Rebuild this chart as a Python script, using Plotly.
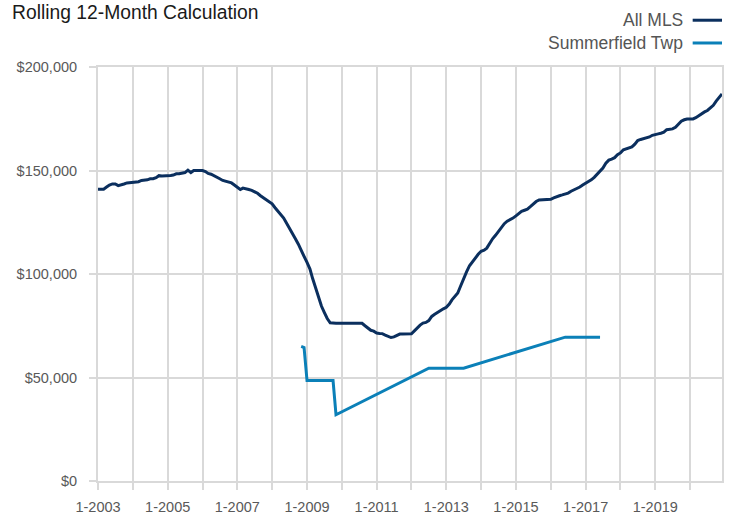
import pandas as pd
import plotly.graph_objects as go

# ---- data (in dollars) ----
mls_dates = pd.date_range("2003-01-01", "2020-12-01", freq="MS")
all_mls = [
    # 2003
    141000, 141000, 141000, 142000, 143000, 143500, 143500, 142700, 143000, 143500, 144000, 144200,
    # 2004
    144400, 144400, 144600, 145200, 145200, 145500, 146000, 146000, 146500, 147500, 147300, 147300,
    # 2005
    147500, 147600, 147800, 148400, 148400, 148800, 149000, 150200, 149000, 150000, 150000, 150000,
    # 2006
    150000, 149500, 148600, 148200, 147600, 146800, 146000, 145200, 144700, 144400, 144000, 143000,
    # 2007
    141900, 140800, 141500, 141000, 140800, 140400, 139800, 139000, 137800, 136800, 136000, 135200,
    # 2008
    133900, 132000, 130500, 129000, 127000, 124500, 121800, 119500, 117000, 114500, 111000, 108500,
    # 2009
    105600, 102400, 97800, 93500, 89000, 84500, 81500, 78500, 76400, 76200, 76200, 76200,
    # 2010
    76200, 76200, 76200, 76200, 76200, 76200, 76200, 76200, 75000, 73700, 72800, 72400,
    # 2011
    71500, 71300, 71200, 70500, 69800, 69300, 69600, 70500, 71000, 71000, 71000, 71100,
    # 2012
    71100, 72500, 74000, 75300, 76300, 76600, 77500, 79500, 80500, 81500, 82500, 83200,
    # 2013
    83900, 85500, 87500, 89200, 90800, 94300, 98000, 101000, 104000, 106000, 107500, 109500,
    # 2014
    111000, 111500, 112500, 115000, 117000, 118700, 120500, 122000, 124300, 125500, 126200, 127000,
    # 2015
    128100, 129300, 130300, 130800, 131300, 132500, 133800, 135000, 135800, 135800, 135800, 136000,
    # 2016
    136100, 136800, 137400, 137800, 138200, 138600, 139100, 140000, 140700, 141200, 142000, 143000,
    # 2017
    143800, 144500, 145500, 146700, 148300, 149800, 151200, 153500, 155000, 155500, 156200, 157600,
    # 2018
    158500, 160000, 160400, 160600, 161400, 162700, 164500, 165000, 165300, 165700, 166200, 167000,
    # 2019
    167500, 167700, 168000, 168500, 169700, 170000, 170100, 170900, 172600, 173800, 174500, 174900,
    # 2020
    174900, 174900, 175500, 176500, 177300, 178300, 179000, 180200, 181500, 183500, 185300, 187000,
]

summerfield_dates = ["2008-11-01", "2008-12-01", "2009-01-01", "2009-10-01", "2009-11-01",
                     "2012-07-01", "2013-07-01", "2016-06-01", "2017-06-01"]
summerfield = [65000, 64500, 48500, 48500, 32000, 54500, 54500, 69500, 69500]

year_ticks = [f"{y}-01-01" for y in range(2003, 2021)]
year_labels = [f"1-{y}" if (y - 2003) % 2 == 0 else "" for y in range(2003, 2021)]
y_ticks = [0, 50000, 100000, 150000, 200000]
y_labels = ["$0", "$50,000", "$100,000", "$150,000", "$200,000"]

series_names = ["All MLS", "Summerfield Twp"]
series_colors = ["#0b2f5e", "#0b80b8"]

# ---- figure ----
GRID = "#d9d9d9"
FONT = "Liberation Sans, Arial, sans-serif"
TICKFONT = dict(family=FONT, size=14.5, color="#595959")

fig = go.Figure()
fig.add_trace(go.Scatter(x=mls_dates, y=all_mls, mode="lines", name=series_names[0],
                         line=dict(color=series_colors[0], width=3), showlegend=False))
fig.add_trace(go.Scatter(x=summerfield_dates, y=summerfield, mode="lines", name=series_names[1],
                         line=dict(color=series_colors[1], width=3), showlegend=False))

fig.update_layout(
    width=732, height=515,
    margin=dict(l=98, r=10, t=67, b=34),
    paper_bgcolor="white", plot_bgcolor="white",
    title=dict(text="Rolling 12-Month Calculation", x=12 / 732, xanchor="left",
               xref="container", yref="container", y=1, yanchor="top",
               pad=dict(t=5), automargin=False,
               font=dict(family=FONT, size=19.3, color="#1a1a1a")),
)
fig.update_xaxes(
    type="date", range=["2003-01-01", "2020-12-01"], automargin=False,
    tickmode="array", tickvals=year_ticks, ticktext=year_labels,
    showgrid=True, gridcolor=GRID, gridwidth=2,
    showline=True, linecolor=GRID, linewidth=2, mirror=True,
    ticks="outside", ticklen=7, tickcolor=GRID, tickwidth=2,
    tickfont=TICKFONT, zeroline=False, ticklabelstandoff=5,
)
fig.update_yaxes(
    range=[0, 200000], automargin=False,
    tickmode="array", tickvals=y_ticks, ticktext=y_labels,
    showgrid=True, gridcolor=GRID, gridwidth=2,
    showline=True, linecolor=GRID, linewidth=2, mirror=True,
    ticks="outside", ticklen=7, tickcolor=GRID, tickwidth=2,
    tickfont=TICKFONT, zeroline=False, ticklabelstandoff=9,
)

# custom legend: text right-aligned, line sample on the right
legend_y = [1.113, 1.058]
for name, color, ly in zip(series_names, series_colors, legend_y):
    fig.add_annotation(xref="paper", yref="paper", x=0.94, y=ly, text=name,
                       showarrow=False, xanchor="right", yanchor="middle",
                       font=dict(family=FONT, size=17.5, color="#555555"))
    fig.add_shape(type="line", xref="paper", yref="paper", x0=0.953, x1=1.0,
                  y0=ly, y1=ly, line=dict(color=color, width=3))

fig.write_html(
    "out.html",
    config={"displayModeBar": False},
    post_script="document.body.style.margin='0';document.body.style.padding='0';",
)
